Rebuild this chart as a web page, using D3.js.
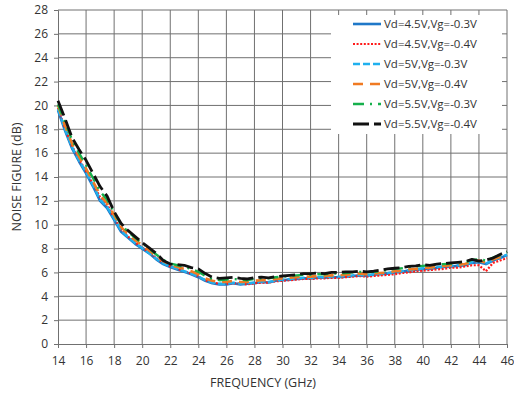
<!DOCTYPE html>
<html>
<head>
<meta charset="utf-8">
<script src="https://cdn.jsdelivr.net/npm/d3@7"></script>
<style>
  html, body { margin: 0; padding: 0; background: #fff; }
  svg { display: block; }
  text { font-family: "Open Sans", "DejaVu Sans", sans-serif; }
</style>
</head>
<body>
<svg id="chart" width="514" height="394"></svg>
<script>
// ---- Data ----
const frequency = [
  14,14.5,15,15.5,16,16.5,17,17.5,18,18.5,
  19,19.5,20,20.5,21,21.5,22,22.5,23,23.5,
  24,24.5,25,25.5,26,26.5,27,27.5,28,28.5,
  29,29.5,30,30.5,31,31.5,32,32.5,33,33.5,
  34,34.5,35,35.5,36,36.5,37,37.5,38,38.5,
  39,39.5,40,40.5,41,41.5,42,42.5,43,43.5,
  44,44.5,45,45.5,46
];
const nfVd45Vg03 = [
  19.6,17.9,16.4,15.3,14.3,13.2,12.0,11.4,10.4,9.4,
  8.9,8.4,8.0,7.6,7.1,6.7,6.45,6.25,6.05,5.85,
  5.6,5.3,5.1,5.0,5.0,5.1,5.0,5.05,5.1,5.2,
  5.15,5.3,5.35,5.4,5.45,5.5,5.5,5.55,5.55,5.6,
  5.6,5.65,5.7,5.75,5.7,5.8,5.85,5.9,6.0,6.05,
  6.15,6.2,6.3,6.3,6.4,6.45,6.5,6.55,6.6,6.8,
  6.85,6.7,7.0,7.2,7.45
];
const nfVd45Vg04 = [
  19.8,18.1,16.6,15.5,14.5,13.4,12.3,11.7,10.6,9.6,
  9.0,8.5,8.1,7.7,7.2,6.8,6.5,6.3,6.1,5.9,
  5.65,5.35,5.15,5.05,5.05,5.1,5.05,5.0,5.1,5.15,
  5.15,5.25,5.3,5.35,5.4,5.45,5.45,5.5,5.5,5.55,
  5.55,5.6,5.65,5.7,5.65,5.7,5.75,5.8,5.85,5.95,
  6.0,6.1,6.15,6.2,6.25,6.3,6.4,6.4,6.5,6.6,
  6.6,6.1,6.8,7.0,7.2
];
const nfVd5Vg03 = [
  19.7,18.0,16.5,15.4,14.4,13.3,12.1,11.5,10.5,9.5,
  8.95,8.45,8.05,7.6,7.15,6.75,6.5,6.3,6.1,5.9,
  5.65,5.35,5.15,5.05,5.05,5.15,5.05,5.1,5.15,5.25,
  5.2,5.3,5.4,5.45,5.5,5.55,5.55,5.6,5.6,5.65,
  5.65,5.7,5.75,5.8,5.75,5.85,5.9,5.95,6.05,6.1,
  6.2,6.25,6.35,6.35,6.45,6.5,6.55,6.6,6.65,6.85,
  6.95,6.75,7.05,7.25,7.5
];
const nfVd5Vg04 = [
  20.0,18.3,16.8,15.7,14.7,13.6,12.5,11.8,10.8,9.8,
  9.2,8.7,8.3,7.85,7.35,6.95,6.65,6.45,6.3,6.1,
  5.85,5.5,5.3,5.2,5.2,5.3,5.2,5.2,5.3,5.35,
  5.35,5.45,5.5,5.55,5.6,5.65,5.65,5.7,5.7,5.75,
  5.75,5.8,5.85,5.9,5.85,5.9,5.95,6.0,6.1,6.15,
  6.25,6.3,6.4,6.4,6.5,6.55,6.6,6.65,6.7,6.9,
  7.0,6.8,7.1,7.3,7.55
];
const nfVd55Vg03 = [
  20.1,18.6,17.1,16.0,15.0,13.9,12.8,12.1,11.0,10.0,
  9.4,8.9,8.45,8.0,7.5,7.05,6.75,6.6,6.45,6.3,
  6.05,5.7,5.45,5.35,5.4,5.45,5.4,5.35,5.45,5.5,
  5.5,5.6,5.65,5.7,5.75,5.8,5.8,5.85,5.85,5.9,
  5.9,5.95,6.0,6.05,6.0,6.05,6.1,6.2,6.3,6.35,
  6.45,6.5,6.55,6.6,6.65,6.7,6.75,6.8,6.85,7.05,
  7.1,7.0,7.25,7.45,7.7
];
const nfVd55Vg04 = [
  20.4,18.9,17.3,16.3,15.4,14.3,13.2,12.4,11.1,10.1,
  9.5,9.0,8.5,8.05,7.6,7.0,6.7,6.65,6.6,6.4,
  6.3,5.9,5.6,5.5,5.55,5.6,5.5,5.45,5.55,5.6,
  5.55,5.65,5.7,5.75,5.8,5.9,5.9,5.95,5.9,6.0,
  6.0,6.05,6.05,6.1,6.05,6.1,6.2,6.3,6.35,6.4,
  6.5,6.55,6.65,6.6,6.7,6.75,6.8,6.85,6.9,7.1,
  6.95,7.05,7.2,7.5,7.75
];
const seriesNames = [
  "Vd=4.5V,Vg=-0.3V", "Vd=4.5V,Vg=-0.4V", "Vd=5V,Vg=-0.3V",
  "Vd=5V,Vg=-0.4V", "Vd=5.5V,Vg=-0.3V", "Vd=5.5V,Vg=-0.4V"
];
const xTicks = [14,16,18,20,22,24,26,28,30,32,34,36,38,40,42,44,46];
const yTicks = [0,2,4,6,8,10,12,14,16,18,20,22,24,26,28];

// ---- Styles ----
const styles = [
  { color: "#1f78c8", width: 2.6, dash: null },
  { color: "#ff1a1a", width: 2.2, dash: "2,1.6" },
  { color: "#1fb0ee", width: 2.4, dash: "7,3" },
  { color: "#f07a22", width: 2.6, dash: "10,7" },
  { color: "#16b04c", width: 2.4, dash: "11,6,2,6" },
  { color: "#111111", width: 2.8, dash: "16,5" }
];
const seriesValues = [nfVd45Vg03, nfVd45Vg04, nfVd5Vg03, nfVd5Vg04, nfVd55Vg03, nfVd55Vg04];

const W = 514, H = 394;
const margin = { left: 58, top: 10, right: 7, bottom: 50 };
const svg = d3.select("#chart");
svg.append("rect").attr("width", W).attr("height", H).attr("fill", "#fff");

const x = d3.scaleLinear().domain([14, 46]).range([margin.left, W - margin.right]);
const y = d3.scaleLinear().domain([0, 28]).range([H - margin.bottom, margin.top]);

// gridlines
const grid = svg.append("g");
grid.selectAll("line.v").data(xTicks.slice(1)).join("line")
  .attr("x1", d => x(d)).attr("x2", d => x(d))
  .attr("y1", y(0)).attr("y2", y(28))
  .attr("stroke", "#707070").attr("stroke-width", 1);
grid.selectAll("line.h").data(yTicks.slice(1)).join("line")
  .attr("x1", x(14)).attr("x2", x(46))
  .attr("y1", d => y(d)).attr("y2", d => y(d))
  .attr("stroke", "#707070").attr("stroke-width", 1);

// axes
const xAxis = d3.axisBottom(x).tickValues(xTicks).tickSize(4).tickPadding(8).tickFormat(d3.format("d"));
const yAxis = d3.axisLeft(y).tickValues(yTicks).tickSize(4).tickPadding(6).tickFormat(d3.format("d"));
const gx = svg.append("g").attr("transform", `translate(0,${y(0)})`).call(xAxis);
const gy = svg.append("g").attr("transform", `translate(${x(14)},0)`).call(yAxis);
[gx, gy].forEach(g => {
  g.select(".domain").attr("stroke", "#707070").attr("stroke-width", 1);
  g.selectAll(".tick line").attr("stroke", "#707070");
  g.selectAll(".tick text").attr("fill", "#333").style("font-size", "12px")
    .style("font-family", "'Open Sans', sans-serif");
});

// series
const line = d3.line().x((d, i) => x(frequency[i])).y(d => y(d));
const plot = svg.append("g");
seriesValues.forEach((vals, k) => {
  plot.append("path").datum(vals)
    .attr("d", line)
    .attr("fill", "none")
    .attr("stroke", styles[k].color)
    .attr("stroke-width", styles[k].width)
    .attr("stroke-dasharray", styles[k].dash)
    .attr("stroke-linejoin", "round");
});

// legend
const lg = svg.append("g");
lg.append("rect").attr("x", 331).attr("y", 15).attr("width", 171).attr("height", 119).attr("fill", "#fff");
seriesNames.forEach((name, k) => {
  const cy = 24 + k * 20;
  lg.append("line").attr("x1", 353).attr("x2", 381).attr("y1", cy).attr("y2", cy)
    .attr("stroke", styles[k].color).attr("stroke-width", styles[k].width)
    .attr("stroke-dasharray", styles[k].dash);
  lg.append("text").attr("x", 384).attr("y", cy).attr("dy", "0.35em")
    .attr("fill", "#333").style("font-size", "11.5px").text(name);
});

// axis titles
svg.append("text").attr("x", 263).attr("y", 383).attr("dy", "0.35em")
  .attr("text-anchor", "middle").attr("fill", "#333").style("font-size", "12.5px")
  .text("FREQUENCY (GHz)");
svg.append("text").attr("transform", "translate(17,177) rotate(-90)")
  .attr("dy", "0.35em").attr("text-anchor", "middle").attr("fill", "#333")
  .style("font-size", "12.5px").text("NOISE FIGURE (dB)");
</script>
</body>
</html>
